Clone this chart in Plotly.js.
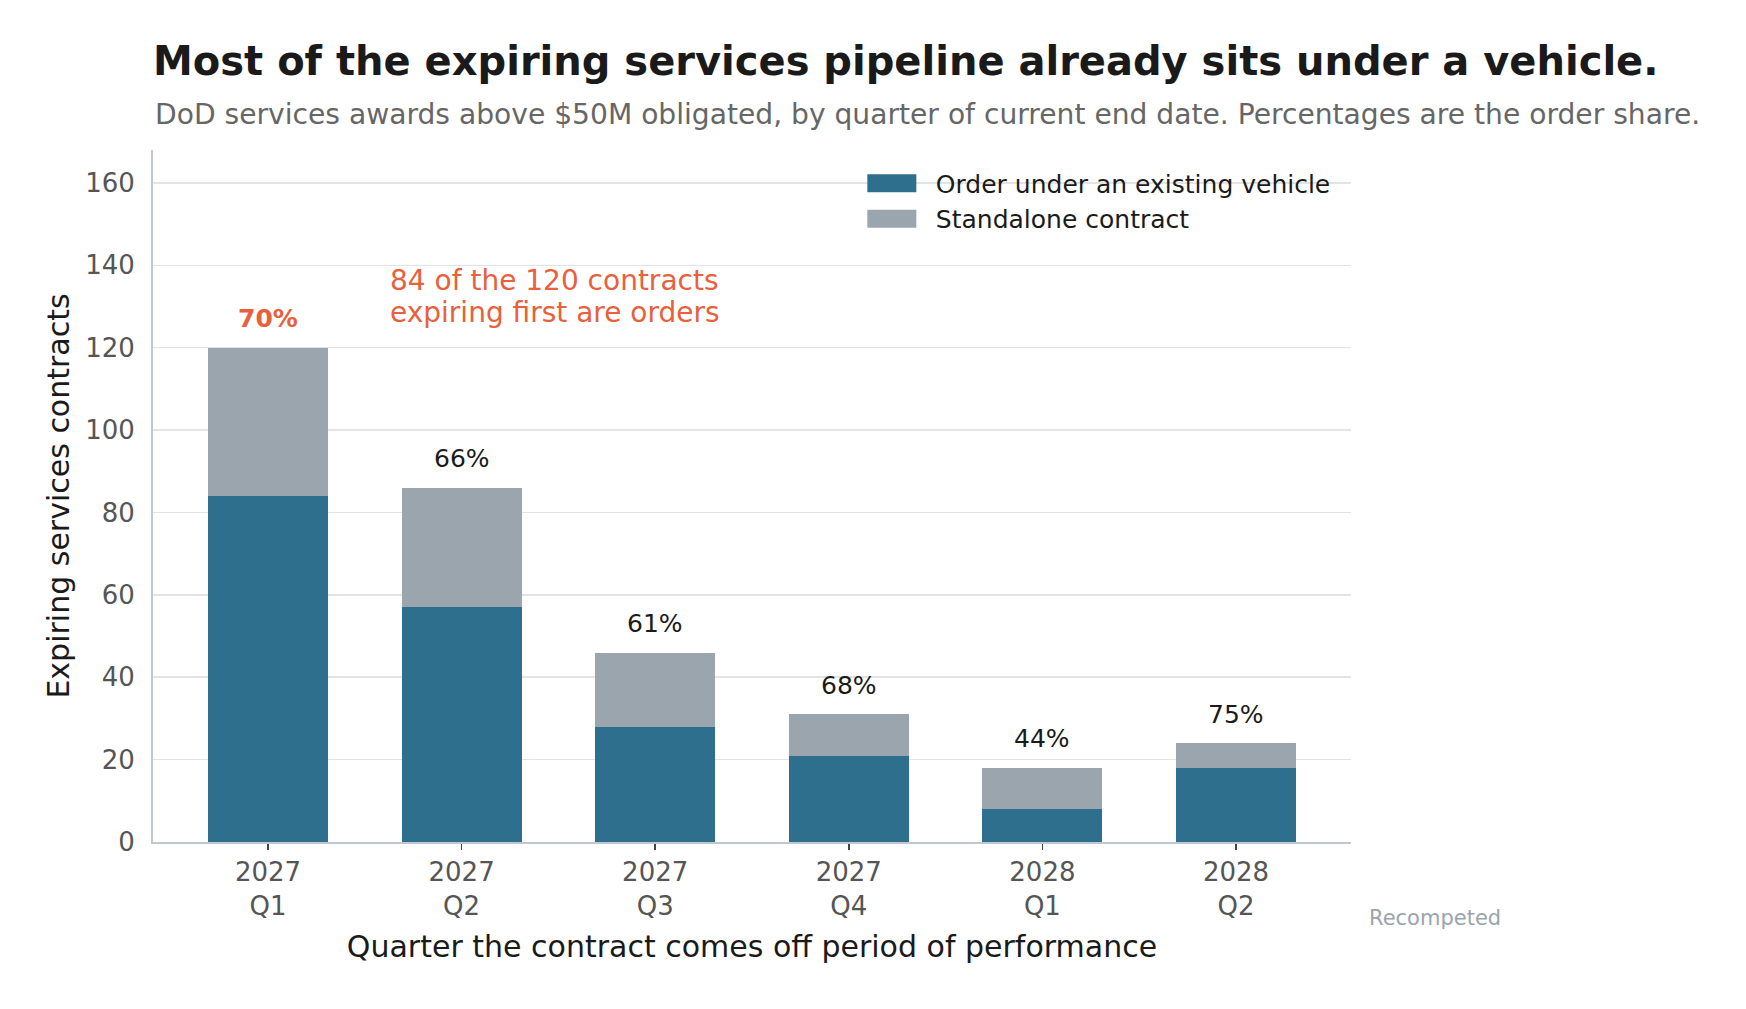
<!DOCTYPE html>
<html>
<head>
<meta charset="utf-8">
<script src="https://cdn.plot.ly/plotly-3.0.1.min.js"></script>
<style>
  html, body { margin: 0; padding: 0; background: #fff; }
  #chart { width: 1746px; height: 1009px; }
</style>
</head>
<body>
<div id="chart"></div>
<script>
// quarters by current end date
const quarters = ['2027<br>Q1', '2027<br>Q2', '2027<br>Q3', '2027<br>Q4', '2028<br>Q1', '2028<br>Q2'];
const orders = [84, 57, 28, 21, 8, 18];
const standalone = [36, 29, 18, 10, 10, 6];

const FONT = 'DejaVu Sans, Verdana, sans-serif';
const ORANGE = '#e8603c';

const totals = orders.map((v, i) => v + standalone[i]);
const shares = orders.map((v, i) => Math.round(v / totals[i] * 100) + '%');

var traces = [{
    x: quarters,
    y: orders,
    name: 'Order under an existing vehicle',
    type: 'bar',
    width: 0.62,
    marker: { color: '#2e6f8e' },
    hoverinfo: 'skip'
}, {
    x: quarters,
    y: standalone,
    name: 'Standalone contract',
    type: 'bar',
    width: 0.62,
    marker: { color: '#9ba5ae' },
    hoverinfo: 'skip'
}];

// share labels above each stack, first one highlighted
var annotations = quarters.map((q, i) => ({
    x: q,
    y: totals[i],
    yanchor: 'middle',
    yshift: 29,
    text: i === 0 ? '<b>' + shares[i] + '</b>' : shares[i],
    showarrow: false,
    font: { family: FONT, size: 25, color: i === 0 ? ORANGE : '#1a1a1a' }
}));

// callout, two lines placed separately for tighter leading
annotations.push({
    x: 0.622, y: 136.4,
    xanchor: 'left', yanchor: 'middle',
    text: '84 of the 120 contracts',
    showarrow: false,
    font: { family: FONT, size: 28, color: ORANGE }
});
annotations.push({
    x: 0.622, y: 128.6,
    xanchor: 'left', yanchor: 'middle',
    text: 'expiring first are orders',
    showarrow: false,
    font: { family: FONT, size: 28, color: ORANGE }
});

annotations.push({
    xref: 'paper', yref: 'paper',
    x: 0, y: 1.051,
    xanchor: 'left', yanchor: 'middle',
    text: 'DoD services awards above $50M obligated, by quarter of current end date. Percentages are the order share.',
    showarrow: false,
    font: { family: FONT, size: 28.15, color: '#666666' }
});

annotations.push({
    xref: 'paper', yref: 'paper',
    x: 1.0134, y: -0.11,
    xanchor: 'left', yanchor: 'middle',
    text: 'Recompeted',
    showarrow: false,
    font: { family: FONT, size: 21, color: '#9aa4ad' }
});

var layout = {
    width: 1746,
    height: 1009,
    barmode: 'stack',
    paper_bgcolor: '#ffffff',
    plot_bgcolor: '#ffffff',
    margin: { l: 153, r: 395, t: 150, b: 167 },
    font: { family: FONT, color: '#1a1a1a' },
    title: {
        text: '<b>Most of the expiring services pipeline already sits under a vehicle.</b>',
        xref: 'paper', x: 0, xanchor: 'left',
        yref: 'container', y: 1 - 61 / 1009, yanchor: 'middle',
        font: { family: FONT, size: 40, color: '#1a1a1a' }
    },
    showlegend: true,
    legend: {
        x: 0.585, xanchor: 'left',
        y: 0.985, yanchor: 'top',
        bgcolor: 'rgba(0,0,0,0)',
        traceorder: 'normal',
        itemwidth: 72,
        font: { family: FONT, size: 25, color: '#1a1a1a' }
    },
    xaxis: {
        type: 'category',
        range: [-0.594, 5.594],
        showline: true,
        linecolor: '#c0c7cf',
        linewidth: 2,
        showgrid: false,
        ticks: 'outside',
        ticklen: 6,
        tickwidth: 1.5,
        tickcolor: '#444444',
        tickfont: { family: FONT, size: 26, color: '#555555' },
        title: {
            text: 'Quarter the contract comes off period of performance',
            font: { family: FONT, size: 30, color: '#1a1a1a' },
            standoff: 16
        }
    },
    yaxis: {
        range: [0, 168],
        dtick: 20,
        showline: true,
        linecolor: '#c0c7cf',
        linewidth: 2,
        gridcolor: '#e3e3e3',
        gridwidth: 1.5,
        zeroline: false,
        ticks: '',
        ticklabelstandoff: 11,
        tickfont: { family: FONT, size: 26, color: '#555555' },
        title: {
            text: 'Expiring services contracts',
            font: { family: FONT, size: 30, color: '#1a1a1a' },
            standoff: 7
        }
    },
    annotations: annotations
};

Plotly.newPlot('chart', traces, layout, { staticPlot: true }).then(function() {
    // wider, flatter legend swatches like the original
    document.querySelectorAll('.legend .legendpoints path').forEach(function(p) {
        p.setAttribute('d', 'M-27.5,-9H21.5V9H-27.5Z');
    });
});
</script>
</body>
</html>
